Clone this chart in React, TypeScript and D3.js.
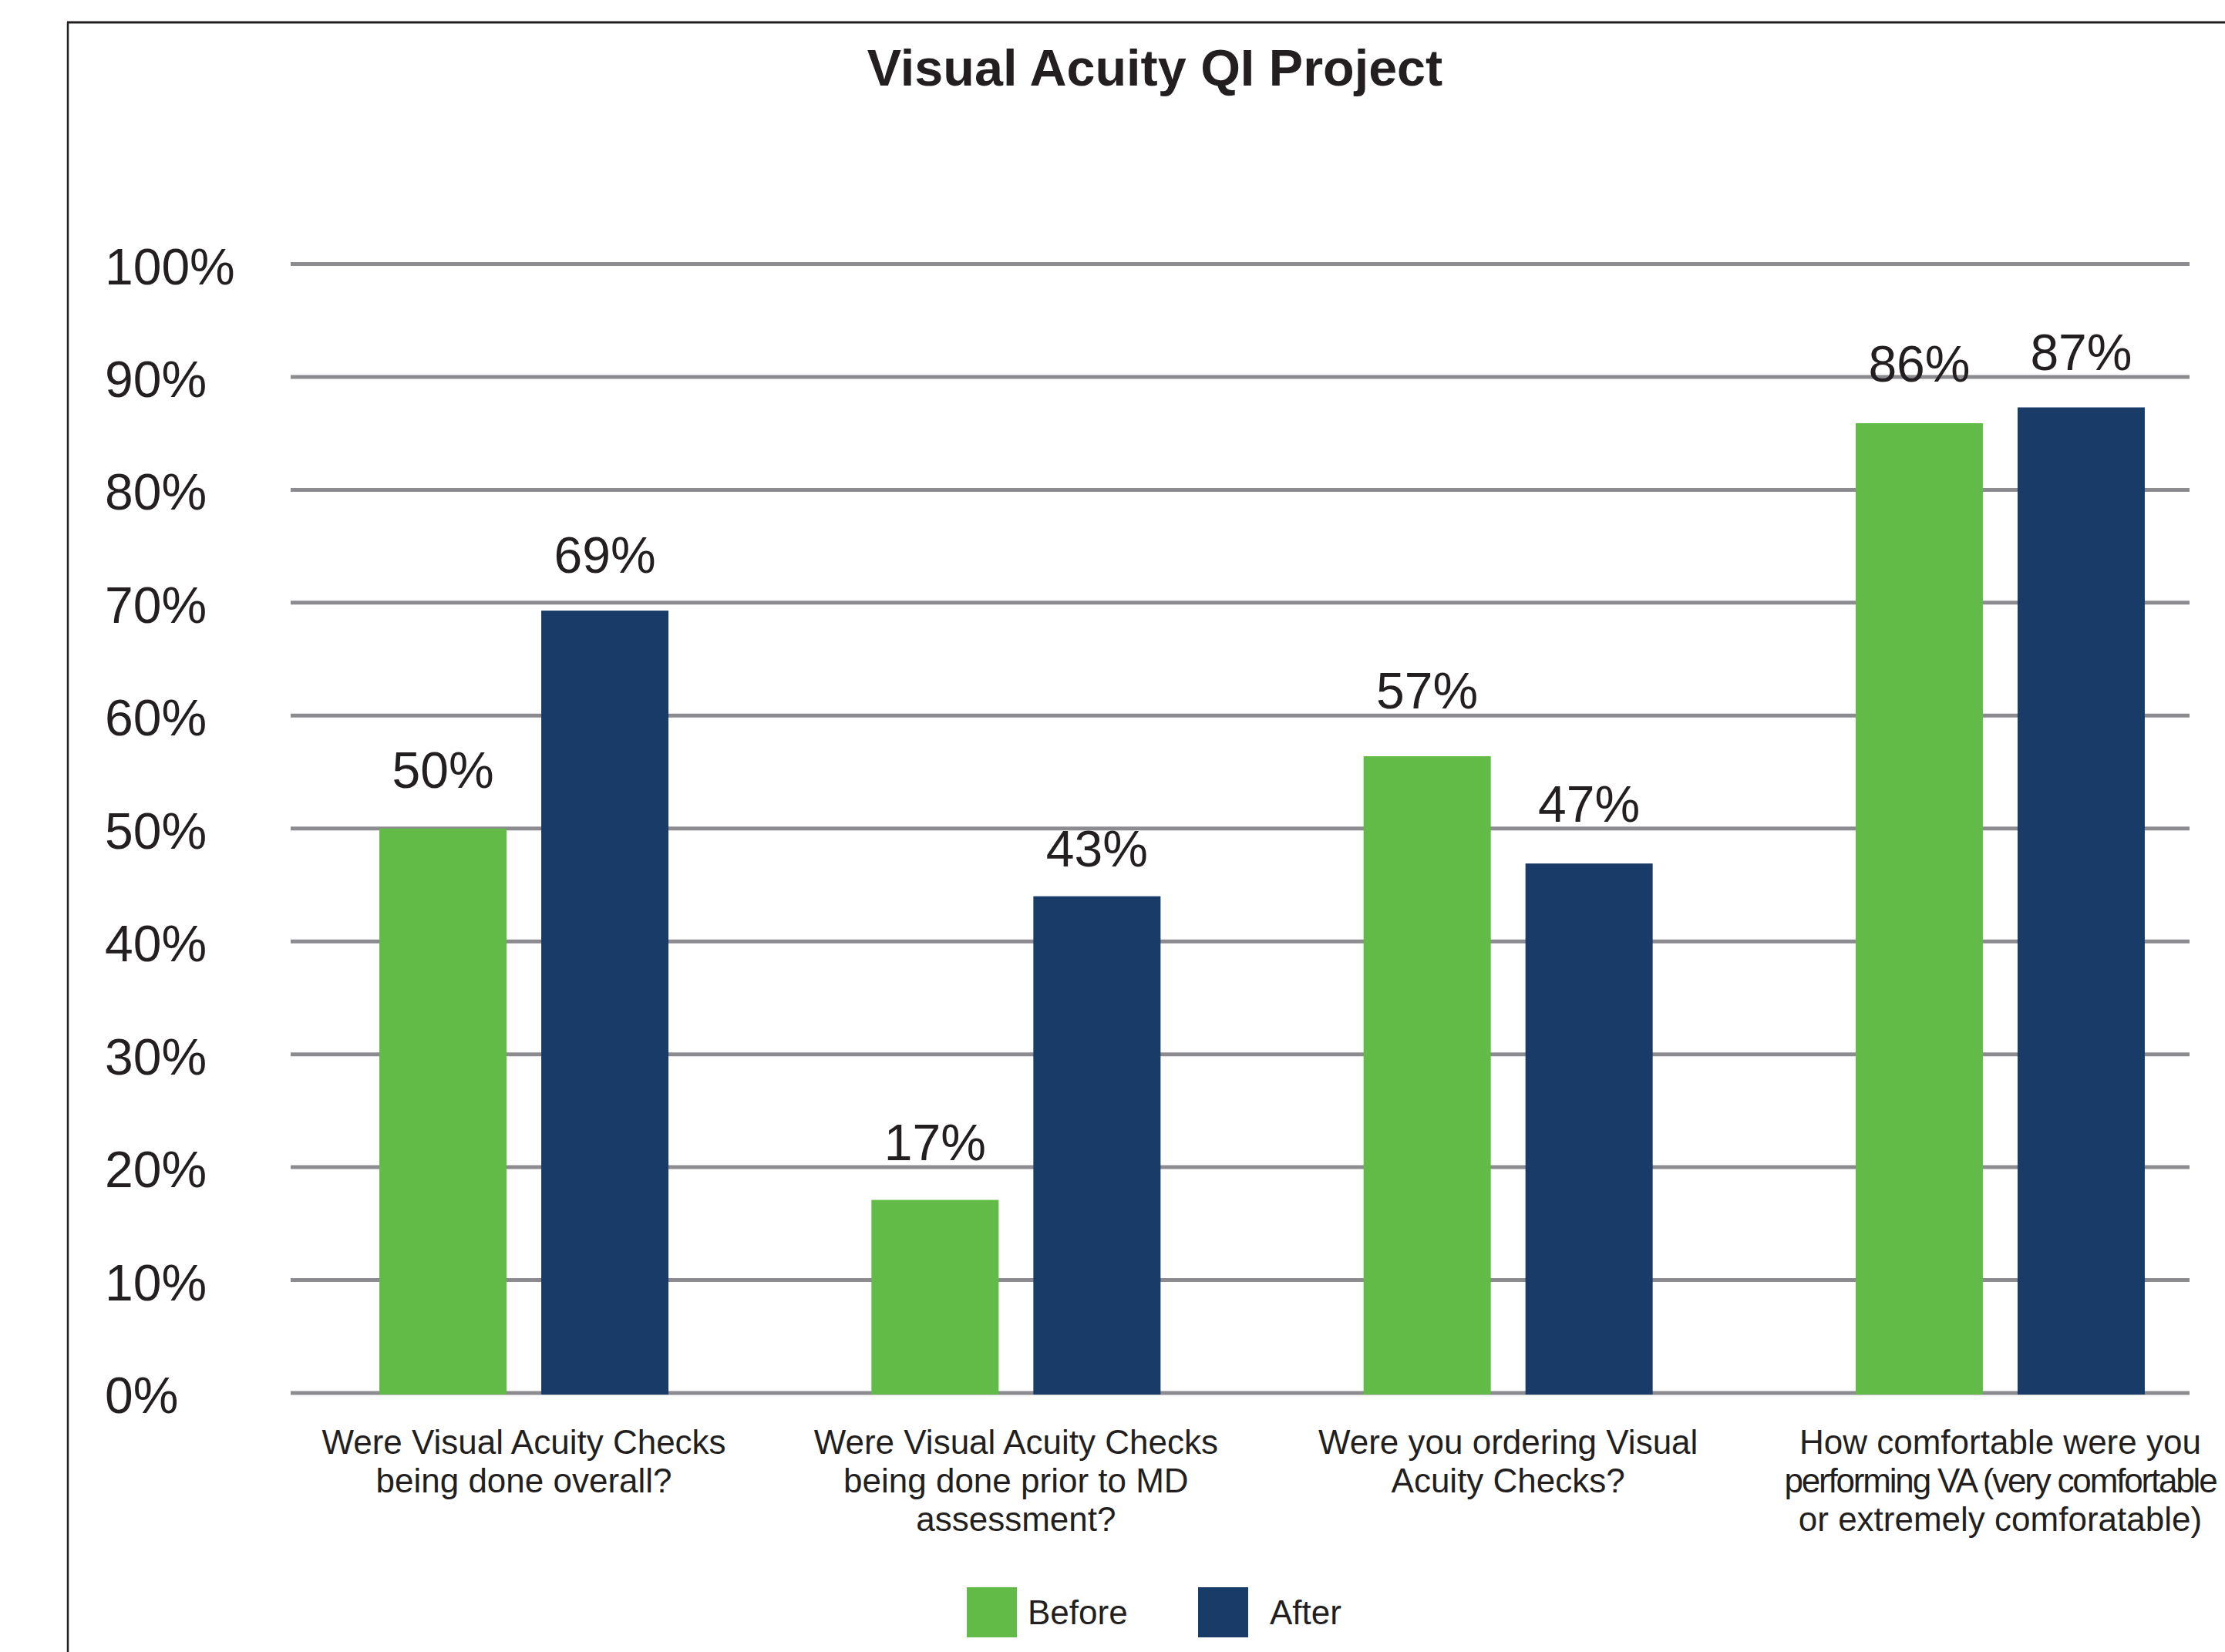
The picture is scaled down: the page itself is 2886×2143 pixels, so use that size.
import React, { useEffect, useRef } from 'react';
import * as d3 from 'd3';

// chart data
const categories = [
  ['Were Visual Acuity Checks', 'being done overall?'],
  ['Were Visual Acuity Checks', 'being done prior to MD', 'assessment?'],
  ['Were you ordering Visual', 'Acuity Checks?'],
  ['How comfortable were you', 'performing VA (very comfortable', 'or extremely comforatable)'],
];
const series = ['Before', 'After'];
const beforeValues = [50, 17.1, 56.4, 85.9];
const afterValues = [69.3, 44, 46.9, 87.3];
const beforeLabels = [50, 17, 57, 86];
const afterLabels = [69, 43, 47, 87];
const yTicks = [0, 10, 20, 30, 40, 50, 60, 70, 80, 90, 100];

const colors = { Before: '#62bb46', After: '#183b68' };
const FONT = '"Liberation Sans", Arial, Helvetica, sans-serif';
const INK = '#231f20';

const App = () => {
  const svgRef = useRef(null);

  useEffect(() => {
    drawChart();
  }, []);

  const drawChart = () => {
    const svg = d3.select(svgRef.current);
    svg.selectAll('*').remove();

    const width = 2886;
    const height = 2143;
    svg.attr('width', width).attr('height', height);

    svg.append('rect').attr('width', width).attr('height', height).attr('fill', '#fff');

    // frame
    svg.append('line')
      .attr('x1', 87).attr('x2', width).attr('y1', 29).attr('y2', 29)
      .attr('stroke', INK).attr('stroke-width', 3);
    svg.append('line')
      .attr('x1', 88).attr('x2', 88).attr('y1', 29).attr('y2', height)
      .attr('stroke', INK).attr('stroke-width', 2.5);

    // title
    svg.append('text')
      .attr('x', 1498).attr('y', 111)
      .attr('text-anchor', 'middle')
      .style('font-family', FONT).style('font-weight', 'bold').style('font-size', '66.5px')
      .attr('fill', INK)
      .text('Visual Acuity QI Project');

    const keys = categories.map(c => c.join(' '));
    const rows = keys.map((k, i) => ({
      key: k,
      lines: categories[i],
      Before: beforeValues[i],
      After: afterValues[i],
      BeforeLabel: beforeLabels[i],
      AfterLabel: afterLabels[i],
    }));

    const y = d3.scaleLinear().domain([0, 100]).range([1807, 342.5]);

    const x0 = d3.scaleBand()
      .domain(keys)
      .range([360.4, 2913.6])
      .paddingInner(0.4125)
      .paddingOuter(0.20625);

    const x1 = d3.scaleBand()
      .domain(series)
      .range([0, x0.bandwidth()])
      .paddingInner(45 / 210);

    // gridlines + y labels
    const grid = svg.append('g');
    grid.selectAll('line')
      .data(yTicks)
      .enter()
      .append('line')
      .attr('x1', 377).attr('x2', 2840)
      .attr('y1', d => y(d)).attr('y2', d => y(d))
      .attr('stroke', '#8c8c90').attr('stroke-width', 5);

    grid.selectAll('text')
      .data(yTicks)
      .enter()
      .append('text')
      .attr('x', 136)
      .attr('y', d => y(d) + 26)
      .style('font-family', FONT).style('font-size', '66px')
      .attr('fill', INK)
      .text(d => `${d}%`);

    // bars
    const groups = svg.append('g')
      .selectAll('g')
      .data(rows)
      .enter()
      .append('g')
      .attr('transform', d => `translate(${x0(d.key)},0)`);

    groups.selectAll('rect')
      .data(d => series.map(s => ({ s, v: d[s] })))
      .enter()
      .append('rect')
      .attr('x', d => x1(d.s))
      .attr('y', d => y(d.v))
      .attr('width', x1.bandwidth())
      .attr('height', d => y(0) - y(d.v) + 2)
      .attr('fill', d => colors[d.s]);

    groups.selectAll('text.val')
      .data(d => series.map(s => ({ s, l: d[s + 'Label'] })))
      .enter()
      .append('text')
      .attr('class', 'val')
      .attr('x', d => x1(d.s) + x1.bandwidth() / 2)
      .attr('y', d => y(d.l) - 53)
      .attr('text-anchor', 'middle')
      .style('font-family', FONT).style('font-size', '66px')
      .attr('fill', INK)
      .text(d => `${d.l}%`);

    // category labels, one text per line
    cat: {
      const lineData = [];
      rows.forEach(r => {
        r.lines.forEach((l, i) => lineData.push({ l, i, cx: x0(r.key) + x0.bandwidth() / 2 }));
      });

      const lines = svg.append('g')
        .selectAll('text')
        .data(lineData)
        .enter()
        .append('text')
        .attr('x', d => d.cx)
        .attr('y', d => 1886 + d.i * 50)
        .attr('text-anchor', 'middle')
        .style('font-family', FONT).style('font-size', '44px')
        .attr('fill', INK)
        .text(d => d.l);

      // the long line is set tighter in the original; keep it inside the frame
      lines.each(function (d) {
        const len = this.getComputedTextLength ? this.getComputedTextLength() : 0;
        if (len > 565) {
          const ls = (560 - len) / d.l.length;
          d3.select(this).style('letter-spacing', `${ls}px`);
        }
      });
    }

    // legend
    const legendX = d3.scaleOrdinal().domain(series).range([1254, 1554]);
    const textOffset = d3.scaleOrdinal().domain(series).range([79, 93]);
    const legend = svg.append('g')
      .selectAll('g')
      .data(series)
      .enter()
      .append('g');

    legend.append('rect')
      .attr('x', d => legendX(d))
      .attr('y', 2059)
      .attr('width', 65).attr('height', 65)
      .attr('fill', d => colors[d]);

    legend.append('text')
      .attr('x', d => legendX(d) + textOffset(d))
      .attr('y', 2107)
      .style('font-family', FONT).style('font-size', '44px')
      .attr('fill', INK)
      .text(d => d);
  };

  return (
    <div style={{ position: 'absolute', left: 0, top: 0 }}>
      <svg ref={svgRef} style={{ display: 'block' }}></svg>
    </div>
  );
};

export default App;
